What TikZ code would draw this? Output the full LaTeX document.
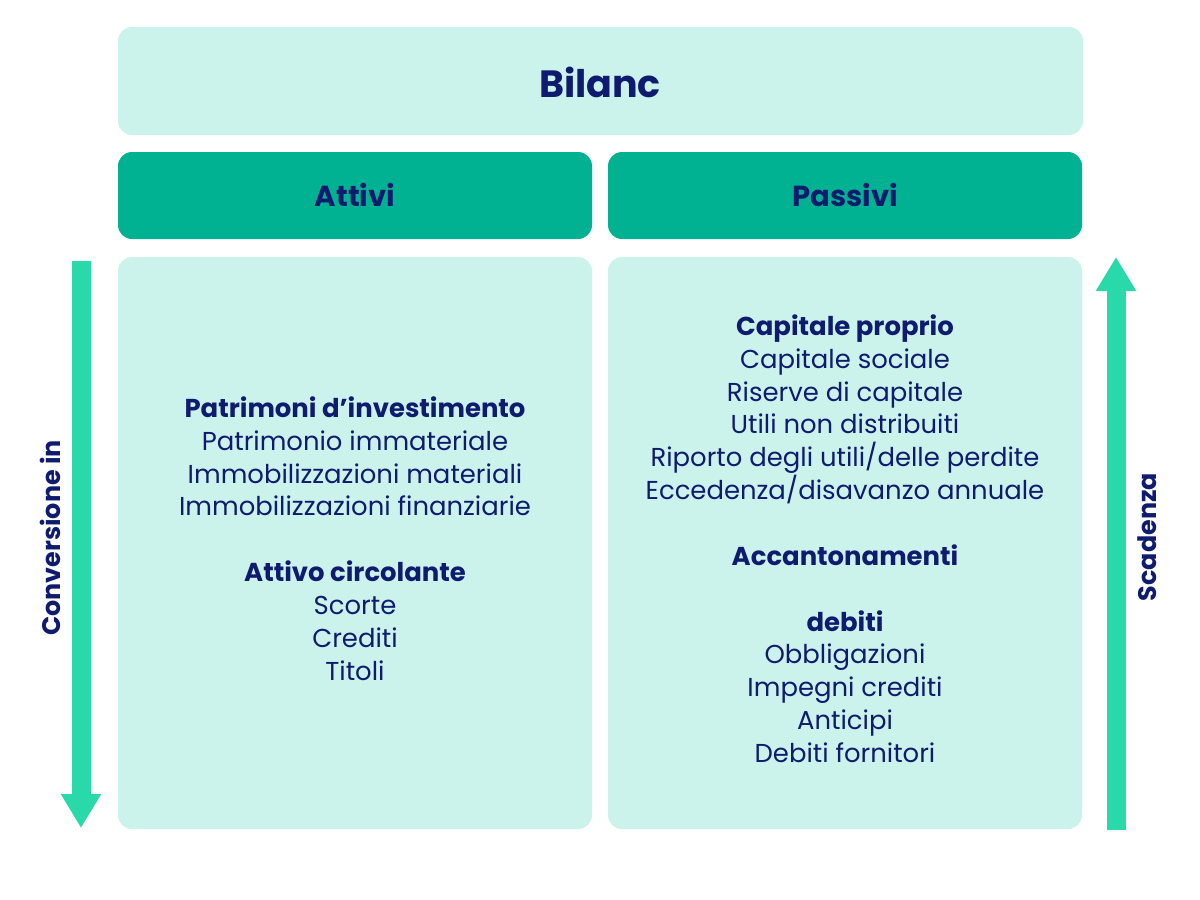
\documentclass[tikz,border=0pt]{standalone}
\usepackage{fontspec}
\setmainfont{Poppins}
\usetikzlibrary{arrows.meta}
\definecolor{lightbox}{HTML}{CCF2EC}
\definecolor{headbox}{HTML}{00B291}
\definecolor{navy}{HTML}{0F1B6E}
\definecolor{arrowgreen}{HTML}{2AD9A9}
\tikzset{
  panel/.style={fill=lightbox, rounded corners=14pt},
  header/.style={fill=headbox, rounded corners=14pt},
  ttl/.style={text=navy, font=\fontsize{38}{42}\selectfont\bfseries},
  headtxt/.style={text=navy, font=\fontsize{29}{34}\selectfont\bfseries},
  bodytxt/.style={text=navy, align=center, font=\fontsize{25.9}{32.85}\selectfont, inner sep=0pt},
  sidetxt/.style={text=navy, font=\fontsize{25.4}{30}\selectfont\bfseries, rotate=90},
  bigarrow/.style={draw=arrowgreen, line width=19pt, -{Triangle[width=38pt,length=34pt]}}
}
\begin{document}
\begin{tikzpicture}[x=1pt,y=-1pt]
\useasboundingbox (0,0) rectangle (1200,900);
\fill[white] (0,0) rectangle (1200,900);
% boxes
\fill[panel] (118,27) rectangle (1083,135);
\node[ttl] (title) at (600,82) {Bilanc};
\fill[header] (118,152) rectangle (592,239);
\fill[header] (608,152) rectangle (1082,239);
\node[headtxt] (attivi) at (355,195) {Attivi};
\node[headtxt] (passivi) at (845,195) {Passivi};
\fill[panel] (118,257) rectangle (592,829);
\fill[panel] (608,257) rectangle (1082,829);
% left text
\node[bodytxt, anchor=north] (lefttext) at (355,396.4) {%
\textbf{Patrimoni d{\char"0027}investimento}\\
Patrimonio immateriale\\
Immobilizzazioni materiali\\
Immobilizzazioni finanziarie\\[32.85pt]
\textbf{Attivo circolante}\\
Scorte\\
Crediti\\
Titoli};
% right text
\node[bodytxt, anchor=north] (righttext) at (845,314.4) {%
\textbf{Capitale proprio}\\
Capitale sociale\\
Riserve di capitale\\
Utili non distribuiti\\
Riporto degli utili/delle perdite\\
Eccedenza/disavanzo annuale\\[32.85pt]
\textbf{Accantonamenti}\\[32.85pt]
\textbf{debiti}\\
Obbligazioni\\
Impegni crediti\\
Anticipi\\
Debiti fornitori};
% arrows
\coordinate (lstart) at (81,261);
\coordinate (lend) at (81,828);
\coordinate (rstart) at (1116,830);
\coordinate (rend) at (1116,257);
\draw[bigarrow] (lstart) -- (lend);
\draw[bigarrow] (rstart) -- (rend);
\node[sidetxt] (conv) at (50,538) {Conversione in};
\node[sidetxt] (scad) at (1147,537) {Scadenza};
\end{tikzpicture}
\end{document}
